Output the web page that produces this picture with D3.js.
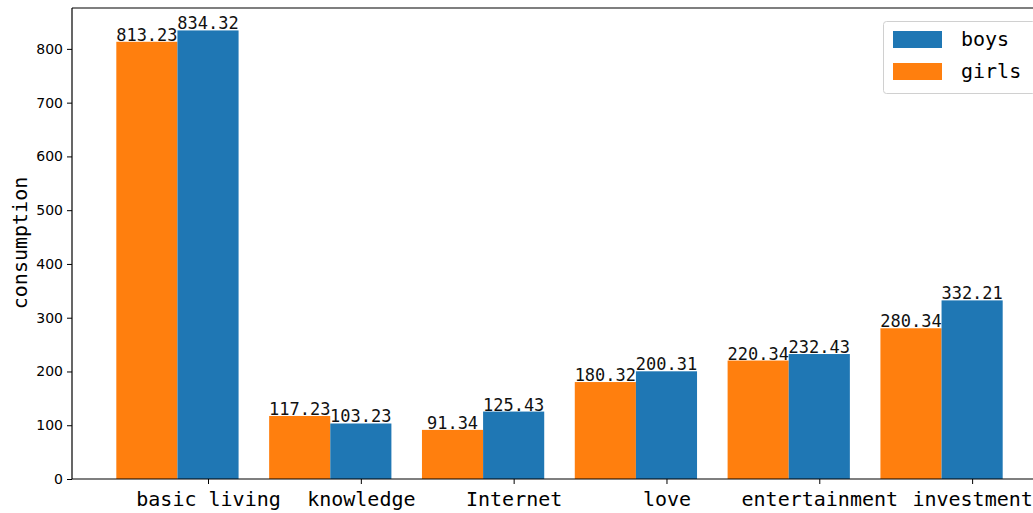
<!DOCTYPE html>
<html><head><meta charset="utf-8">
<script src="https://cdn.jsdelivr.net/npm/d3@7"></script>
<style>body{margin:0;background:#fff;}svg{display:block;}</style>
</head><body>
<svg id="c" width="1033" height="513"></svg>
<script>
const categories = ["basic living","knowledge","Internet","love","entertainment","investment"];
const girls = [813.23,117.23,91.34,180.32,220.34,280.34];
const boys = [834.32,103.23,125.43,200.31,232.43,332.21];
const yTicks = [0,100,200,300,400,500,600,700,800];
const seriesNames = ["boys","girls"];
const colors = {boys:"#1f77b4", girls:"#ff7f0e"};

const svg = d3.select("#c");
const W = 0.4;
const L = 72, R = 1047, T = 8, B = 479;
const xmin = -W*1.5, xmax = (categories.length-1) + W/2;
const mx = (xmax - xmin)*0.05;
const x = d3.scaleLinear().domain([xmin - mx, xmax + mx]).range([L, R]);
const ymax = d3.max(boys.concat(girls))*1.05;
const y = d3.scaleLinear().domain([0, ymax]).range([B, T]);

const mono = "'DejaVu Sans Mono', 'Liberation Mono', monospace";
const sans = "'DejaVu Sans', sans-serif";

// bars
const g = svg.append("g");
categories.forEach((c,i)=>{
  [["girls", girls[i], i - W], ["boys", boys[i], i]].forEach(([s,v,xc])=>{
    g.append("rect")
      .attr("x", x(xc - W/2)).attr("width", x(xc + W/2) - x(xc - W/2))
      .attr("y", y(v)).attr("height", y(0) - y(v))
      .attr("fill", colors[s]);
    g.append("text")
      .attr("x", x(xc)).attr("y", y(v) - 1)
      .attr("text-anchor","middle")
      .attr("font-family", mono).attr("font-size", 17)
      .attr("fill","#111")
      .text(v.toFixed(2));
  });
});

// spines
svg.append("line").attr("x1",L).attr("x2",L).attr("y1",T).attr("y2",B).attr("stroke","#000").attr("stroke-width",1.2);
svg.append("line").attr("x1",L).attr("x2",R).attr("y1",B).attr("y2",B).attr("stroke","#000").attr("stroke-width",1.2);
svg.append("line").attr("x1",L).attr("x2",R).attr("y1",T).attr("y2",T).attr("stroke","#000").attr("stroke-width",1.2);

// y axis
const ya = svg.append("g").attr("transform",`translate(${L},0)`)
  .call(d3.axisLeft(y).tickValues(yTicks).tickSize(5).tickPadding(4).tickFormat(d3.format("d")));
ya.select(".domain").remove();
ya.selectAll("text").attr("font-family", sans).attr("font-size", 14).attr("fill","#000");
ya.selectAll("line").attr("stroke","#000");

// x axis
const xa = svg.append("g").attr("transform",`translate(0,${B})`)
  .call(d3.axisBottom(x).tickValues(d3.range(categories.length)).tickSize(5).tickPadding(8).tickFormat(i=>categories[i]));
xa.select(".domain").remove();
xa.selectAll("text").attr("font-family", mono).attr("font-size", 20).attr("fill","#000");
xa.selectAll("line").attr("stroke","#000");

// y label
svg.append("text").attr("transform","translate(27,243) rotate(-90)")
  .attr("text-anchor","middle").attr("font-family", mono).attr("font-size", 20)
  .attr("fill","#000").text("consumption");

// legend
const lg = svg.append("g");
lg.append("rect").attr("x",883.5).attr("y",21.5).attr("width",152).attr("height",72).attr("rx",3)
  .attr("fill","#fff").attr("stroke","#d0d0d0").attr("stroke-width",1);
seriesNames.forEach((s,k)=>{
  lg.append("rect").attr("x",893).attr("y",31 + k*32).attr("width",49).attr("height",17).attr("fill",colors[s]);
  lg.append("text").attr("x",961).attr("y",46 + k*32).attr("font-family", mono).attr("font-size",20)
    .attr("fill","#000").text(s);
});
</script>
</body></html>
